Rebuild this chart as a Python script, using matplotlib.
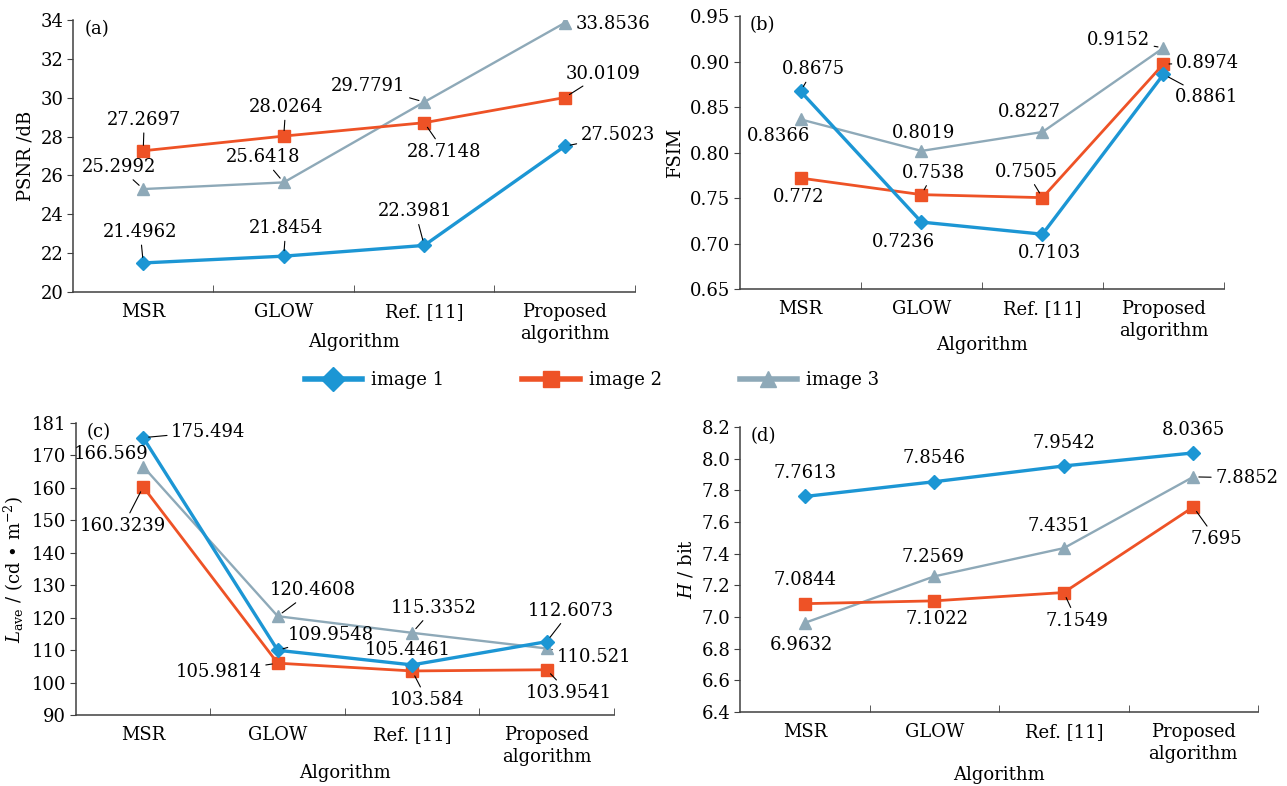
import matplotlib
matplotlib.use("Agg")
import matplotlib.pyplot as plt
from matplotlib.lines import Line2D

plt.rcParams['font.family'] = ['DejaVu Serif']
plt.rcParams['font.size'] = 13
plt.rcParams['mathtext.fontset'] = 'dejavuserif'

algorithms = ['MSR', 'GLOW', 'Ref. [11]', 'Proposed\nalgorithm']
series_names = ['image 1', 'image 2', 'image 3']

psnr_1 = [21.4962, 21.8454, 22.3981, 27.5023]
psnr_2 = [27.2697, 28.0264, 28.7148, 30.0109]
psnr_3 = [25.2992, 25.6418, 29.7791, 33.8536]

fsim_1 = [0.8675, 0.7236, 0.7103, 0.8861]
fsim_2 = [0.772, 0.7538, 0.7505, 0.8974]
fsim_3 = [0.8366, 0.8019, 0.8227, 0.9152]

lave_1 = [175.494, 109.9548, 105.4461, 112.6073]
lave_2 = [160.3239, 105.9814, 103.584, 103.9541]
lave_3 = [166.569, 120.4608, 115.3352, 110.521]

ent_1 = [7.7613, 7.8546, 7.9542, 8.0365]
ent_2 = [7.0844, 7.1022, 7.1549, 7.695]
ent_3 = [6.9632, 7.2569, 7.4351, 7.8852]

psnr_ticks = [20, 22, 24, 26, 28, 30, 32, 34]
fsim_ticks = [0.65, 0.70, 0.75, 0.80, 0.85, 0.90, 0.95]
lave_ticks = [90, 100, 110, 120, 130, 140, 150, 160, 170, 180]
lave_ticklabels = ['90', '100', '110', '120', '130', '140', '150', '160', '170', '181']
ent_ticks = [6.4, 6.6, 6.8, 7.0, 7.2, 7.4, 7.6, 7.8, 8.0, 8.2]

colors = ['#1c96d4', '#ee5226', '#8ea9b8']
markers = ['D', 's', '^']
lws = [2.4, 2.0, 1.7]
msizes = [7, 8, 8]

# label offsets in pixels: (dx, dy, align, leader line)
lab_a = [[(-3, 31, 'c', 1), (2, 28, 'c', 1), (-9, 34, 'c', 1), (16, 11, 'l', 1)],
         [(1, 31, 'c', 1), (2, 29, 'c', 1), (20, -29, 'c', 1), (38, 24, 'c', 1)],
         [(-24, 22, 'c', 1), (-21, 25, 'c', 1), (-56, 16, 'c', 1), (11, -1, 'l', 0)]]
lab_b = [[(13, 22, 'c', 1), (-18, -20, 'c', 0), (7, -19, 'c', 0), (43, -23, 'c', 1)],
         [(-2, -19, 'c', 0), (12, 22, 'c', 1), (-16, 26, 'c', 1), (44, 1, 'c', 1)],
         [(-22, -17, 'c', 0), (2, 18, 'c', 0), (-13, 20, 'c', 0), (-45, 8, 'c', 1)]]
lab_c = [[(28, 6, 'l', 1), (10, 15, 'l', 1), (-4, 15, 'c', 0), (24, 31, 'c', 1)],
         [(-20, -39, 'c', 1), (-16, -9, 'r', 1), (15, -29, 'c', 1), (22, -23, 'c', 1)],
         [(-32, 13, 'c', 0), (35, 26, 'c', 1), (22, 25, 'c', 1), (47, -9, 'c', 1)]]
lab_d = [[(0, 23, 'c', 0), (0, 24, 'c', 0), (0, 23, 'c', 0), (0, 23, 'c', 0)],
         [(0, 24, 'c', 0), (3, -18, 'c', 0), (13, -28, 'c', 1), (23, -32, 'c', 1)],
         [(-3, -22, 'c', 0), (-1, 19, 'c', 0), (-5, 22, 'c', 0), (22, -1, 'l', 1)]]

ha_map = {'c': 'center', 'l': 'left', 'r': 'right'}

fig = plt.figure(figsize=(12.87, 7.86), dpi=100)
ax_a = fig.add_axes([0.0567, 0.6285, 0.4367, 0.346])
ax_b = fig.add_axes([0.575, 0.6323, 0.376, 0.347])
ax_c = fig.add_axes([0.059, 0.0903, 0.418, 0.3715])
ax_d = fig.add_axes([0.575, 0.0941, 0.4025, 0.3626])


def panel(ax, data, labels, ticks, ticklabels, ylabel, tag, xlab_y):
    x = range(len(algorithms))
    for i, vals in enumerate(data):
        ax.plot(x, vals, color=colors[i], lw=lws[i], marker=markers[i],
                ms=msizes[i], zorder=3 - i * 0.1)
        for j, v in enumerate(vals):
            dx, dy, al, lead = labels[i][j]
            kw = {}
            if lead:
                kw['arrowprops'] = dict(arrowstyle='-', color='black', lw=0.8,
                                        shrinkA=1, shrinkB=4)
            ax.annotate(str(v), (j, v), xytext=(dx, dy), textcoords='offset pixels',
                        ha=ha_map[al], va='center', fontsize=13, zorder=5, **kw)
    ax.set_xlim(-0.5, 3.5)
    ax.set_ylim(ticks[0], ticks[-1])
    ax.set_yticks(ticks)
    ax.set_yticklabels(ticklabels)
    ax.set_xticks(list(x))
    ax.set_xticklabels(algorithms, linespacing=1.3)
    ax.set_xticks([0.5, 1.5, 2.5, 3.5], minor=True)
    ax.tick_params(axis='x', which='major', length=0, pad=8)
    ax.tick_params(axis='x', which='minor', direction='in', length=5, color='#404040')
    ax.tick_params(axis='y', length=4, color='#404040', pad=3)
    for s in ['top', 'right']:
        ax.spines[s].set_visible(False)
    for s in ['left', 'bottom']:
        ax.spines[s].set_color('#404040')
        ax.spines[s].set_linewidth(1.1)
    ax.set_ylabel(ylabel, fontsize=13, labelpad=4)
    ax.set_xlabel('Algorithm', fontsize=13, va='center')
    ax.xaxis.set_label_coords(0.5, xlab_y)
    ax.text(0.02, 1.0, tag, transform=ax.transAxes, ha='left', va='top', fontsize=13)
    ax.patch.set_alpha(0)


panel(ax_a, [psnr_1, psnr_2, psnr_3], lab_a, psnr_ticks,
      [str(t) for t in psnr_ticks], 'PSNR /dB', '(a)', -0.184)
panel(ax_b, [fsim_1, fsim_2, fsim_3], lab_b, fsim_ticks,
      ['%.2f' % t for t in fsim_ticks], 'FSIM', '(b)', -0.205)
panel(ax_c, [lave_1, lave_2, lave_3], lab_c, lave_ticks, lave_ticklabels,
      r'$L_{\rm ave}$ / (cd • m$^{-2}$)', '(c)', -0.199)
panel(ax_d, [ent_1, ent_2, ent_3], lab_d, ent_ticks,
      ['%.1f' % t for t in ent_ticks], r'$H$ / bit', '(d)', -0.221)

handles = [Line2D([], [], color=colors[i], lw=4, marker=markers[i], ms=12)
           for i in range(3)]
fig.legend(handles, series_names, loc='center', bbox_to_anchor=(0.46, 0.5165),
           ncol=3, frameon=False, fontsize=13, columnspacing=4.3,
           handlelength=3.2, handletextpad=0.5)

fig.savefig('out.png', dpi=100)
